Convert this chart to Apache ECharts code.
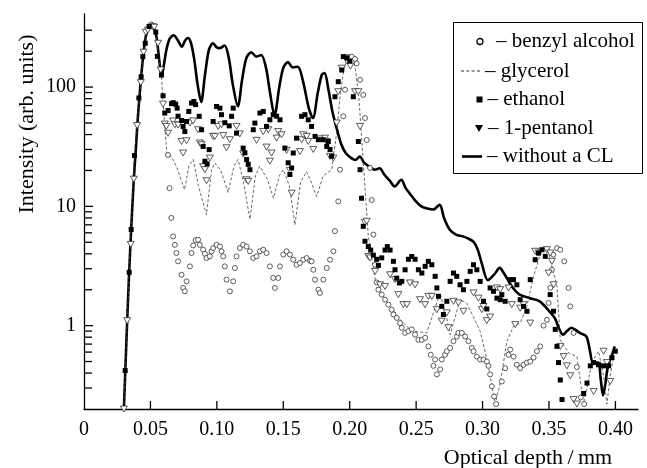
<!DOCTYPE html>
<html>
<head>
<meta charset="utf-8">
<script src="https://cdn.jsdelivr.net/npm/echarts@6/dist/echarts.min.js"></script>
<style>
  html, body { margin: 0; padding: 0; background: #fff; }
  #chart { width: 647px; height: 468px; }
</style>
</head>
<body>
<div id="chart"></div>
<script>
// depth (mm), intensity (arb. units)
var clPts = [[0.0300,0.2],[0.0312,0.45],[0.0325,1.1],[0.0340,2.8],[0.0355,6.4],[0.0375,17],[0.0390,30],[0.0405,55],[0.0420,90],[0.0435,140],[0.0450,200],[0.0465,265],[0.0485,315],[0.0505,335],[0.0525,318],[0.0545,265],[0.0560,195],[0.0573,145],[0.0585,124],[0.0600,150],[0.0620,205],[0.0645,255],[0.0676,272],[0.0705,248],[0.0737,218],[0.0760,245],[0.0782,258],[0.0805,235],[0.0830,170],[0.0855,105],[0.0882,75],[0.0910,125],[0.0940,205],[0.0970,233],[0.1000,215],[0.1020,212],[0.1058,223],[0.1090,175],[0.1120,105],[0.1158,69],[0.1190,115],[0.1222,175],[0.1259,196],[0.1297,180],[0.1334,186],[0.1370,145],[0.1400,90],[0.1434,58],[0.1470,100],[0.1500,145],[0.1535,162],[0.1572,146],[0.1610,148],[0.1650,110],[0.1690,68],[0.1723,55],[0.1760,90],[0.1790,127],[0.1811,131],[0.1840,95],[0.1870,62],[0.1900,46],[0.1937,33],[0.1970,28],[0.2012,25.4],[0.2045,24.5],[0.2075,26.2],[0.2112,23],[0.2150,21.5],[0.2190,20.3],[0.2225,20.9],[0.2260,18.5],[0.2300,16.5],[0.2338,14.7],[0.2388,16.7],[0.2420,14.3],[0.2450,12.9],[0.2490,11.3],[0.2539,10],[0.2585,9.6],[0.2626,9.4],[0.2677,10.3],[0.2710,8.0],[0.2752,6.4],[0.2800,5.8],[0.2852,5.6],[0.2903,5.3],[0.2935,5.0],[0.2965,4.3],[0.2995,3.3],[0.3040,2.4],[0.3090,2.7],[0.3129,3.05],[0.3165,2.7],[0.3204,2.28],[0.3240,2.0],[0.3279,1.82],[0.3320,1.75],[0.3355,1.7],[0.3430,1.6],[0.3492,1.36],[0.3543,1.16],[0.3575,0.95],[0.3605,0.84],[0.3635,0.9],[0.3668,0.96],[0.3700,0.92],[0.3731,0.87],[0.3782,0.81],[0.3810,0.6],[0.3831,0.49],[0.3870,0.49],[0.3890,0.35],[0.3907,0.26],[0.3925,0.33],[0.3944,0.46],[0.3970,0.55],[0.3995,0.67]];

var glycerolPts = [[0.0300,0.2],[0.0340,2.8],[0.0380,26.7],[0.0430,122],[0.0465,280],[0.0506,332],[0.0540,289],[0.0574,141],[0.0583,124],[0.0600,60],[0.0625,27],[0.0660,26],[0.0700,21],[0.0757,13.8],[0.0790,22],[0.0822,24.7],[0.0860,15],[0.0922,8.5],[0.0960,20],[0.0985,23.1],[0.1030,20],[0.1085,13.1],[0.1130,22],[0.1160,24.7],[0.1200,16],[0.1249,7.8],[0.1290,18],[0.1322,21.7],[0.1380,17],[0.1426,11.7],[0.1470,18],[0.1500,20.3],[0.1545,15],[0.1588,7.0],[0.1630,16],[0.1676,19.6],[0.1710,16],[0.1751,12.1],[0.1800,18],[0.1864,20.3],[0.1900,40],[0.1930,90],[0.1960,150],[0.2000,175],[0.2040,150],[0.2070,80],[0.2100,25],[0.2125,10],[0.2140,5.6],[0.2170,3.5],[0.2200,2.13],[0.2300,1.5],[0.2380,1.12],[0.2467,0.9],[0.2580,0.87],[0.2680,1.88],[0.2731,1.16],[0.2756,0.84],[0.2831,1.65],[0.2880,1.55],[0.2982,0.9],[0.3020,0.6],[0.3057,0.38],[0.3095,0.22],[0.3133,0.33],[0.3183,0.74],[0.3233,0.99],[0.3283,1.05],[0.3330,1.4],[0.3384,2.59],[0.3434,3.94],[0.3484,4.6],[0.3560,2.13],[0.3585,0.76],[0.3648,0.59],[0.3710,0.55],[0.3735,0.35],[0.3760,0.22],[0.3823,0.49],[0.3873,0.61],[0.3911,0.38],[0.3936,0.22],[0.3961,0.38],[0.3986,0.55]];

var ethanolPts = [[0.0310,0.42],[0.0340,2.8],[0.0355,6.4],[0.0380,26.7],[0.0413,81],[0.0430,122],[0.0443,180],[0.0461,233],[0.0490,322],[0.0540,289],[0.0552,181],[0.0583,126],[0.0595,84.6],[0.0608,60.6],[0.0633,63.6],[0.0659,72.6],[0.0671,74],[0.0690,72],[0.0701,66.6],[0.0708,57],[0.0734,52.5],[0.0746,46.8],[0.0759,42.4],[0.0772,51.5],[0.0789,62.5],[0.0809,73.5],[0.0827,75.8],[0.0840,71.3],[0.0867,56.9],[0.0885,43.9],[0.0897,31.8],[0.0910,23.9],[0.0927,22.7],[0.0942,29.9],[0.0972,51.5],[0.0998,68.8],[0.1023,66.6],[0.1035,58.7],[0.1060,50.3],[0.1093,47.3],[0.1111,56.9],[0.1123,66.6],[0.1148,41.1],[0.1198,30.8],[0.1211,28.1],[0.1224,24.7],[0.1236,22.5],[0.1249,20.3],[0.1274,43.9],[0.1286,49.9],[0.1324,60.6],[0.1349,62.5],[0.1374,46.8],[0.1399,53.2],[0.1424,58.7],[0.1450,57],[0.1475,53.2],[0.1512,30.8],[0.1537,23.2],[0.1550,18.5],[0.1563,21],[0.1575,28],[0.1600,37.3],[0.1638,56.9],[0.1663,58.7],[0.1688,53.2],[0.1713,46.8],[0.1739,38.6],[0.1764,36.2],[0.1801,36.2],[0.1827,31.8],[0.1839,35],[0.1852,30],[0.1864,26.3],[0.1889,83],[0.1914,111],[0.1940,139],[0.1952,180],[0.1977,176],[0.2000,165],[0.2027,83],[0.2065,35],[0.2078,20.3],[0.2089,11.7],[0.2102,6.8],[0.2115,5.1],[0.2140,4.6],[0.2158,4.3],[0.2178,3.9],[0.2203,3.6],[0.2216,3.2],[0.2241,3.7],[0.2266,4.3],[0.2283,4.6],[0.2304,4.3],[0.2329,3.46],[0.2341,2.94],[0.2354,2.5],[0.2374,2.28],[0.2392,2.35],[0.2417,2.94],[0.2442,3.6],[0.2467,3.8],[0.2492,3.6],[0.2517,2.94],[0.2543,2.76],[0.2568,3.14],[0.2592,3.46],[0.2618,3.24],[0.2643,2.59],[0.2656,2.07],[0.2668,1.76],[0.2693,1.45],[0.2705,1.24],[0.2731,1.6],[0.2756,2.35],[0.2781,2.76],[0.2806,2.59],[0.2831,2.2],[0.2856,2.0],[0.2882,2.35],[0.2907,2.85],[0.2932,3.24],[0.2957,2.94],[0.2982,2.35],[0.3007,1.6],[0.3032,1.38],[0.3057,2.07],[0.3082,1.94],[0.3108,1.7],[0.3133,1.65],[0.3145,1.82],[0.3170,1.6],[0.3208,2.43],[0.3233,2.43],[0.3258,2.2],[0.3283,1.65],[0.3308,1.45],[0.3334,1.32],[0.3359,2.43],[0.3396,3.57],[0.3421,4.06],[0.3447,4.33],[0.3472,3.81],[0.3509,1.82],[0.3534,1.32],[0.3547,0.93],[0.3560,0.67],[0.3572,0.49],[0.3585,0.35],[0.3598,0.24],[0.3761,0.27],[0.3786,0.33],[0.3811,0.46],[0.3836,0.49],[0.3873,0.47],[0.3911,0.46],[0.3949,0.46],[0.3974,0.54],[0.3999,0.61]];

var pentanolPts = [[0.0300,0.2],[0.0325,1.1],[0.0352,4.8],[0.0375,16.9],[0.0400,47.6],[0.0428,109],[0.0448,196],[0.0465,288],[0.0481,300],[0.0519,320],[0.0529,318],[0.0557,233],[0.0577,139],[0.0595,72],[0.0608,49],[0.0620,46.8],[0.0633,41],[0.0670,52],[0.0684,48.3],[0.0708,48],[0.0734,35],[0.0746,28],[0.0772,35.5],[0.0797,50],[0.0821,52],[0.0859,43.9],[0.0872,34],[0.0885,32.9],[0.0897,21.5],[0.0910,20.3],[0.0922,16.4],[0.0947,25.4],[0.0972,38.6],[0.0985,38.6],[0.1010,46.8],[0.1035,48.3],[0.1048,39.2],[0.1073,31],[0.1098,36.2],[0.1148,46.8],[0.1173,40.5],[0.1198,27.5],[0.1224,16.7],[0.1236,16.2],[0.1299,35.8],[0.1349,42.4],[0.1374,31.4],[0.1387,43.9],[0.1399,23.9],[0.1412,28],[0.1450,37.3],[0.1462,42.4],[0.1487,39.8],[0.1525,29.5],[0.1550,20],[0.1563,12.9],[0.1625,28.8],[0.1638,36.2],[0.1650,39.8],[0.1676,38.6],[0.1688,35],[0.1726,30],[0.1776,36.8],[0.1814,37.3],[0.1827,35],[0.1852,26.3],[0.1877,25.4],[0.1902,50],[0.1914,91.5],[0.1940,144],[0.1977,176],[0.2005,150],[0.2040,91.5],[0.2065,91.5],[0.2078,46.8],[0.2115,7.3],[0.2128,7.5],[0.2140,3.8],[0.2153,3.69],[0.2191,2.85],[0.2228,2.2],[0.2266,2.13],[0.2304,2.67],[0.2341,2.43],[0.2366,1.82],[0.2404,1.5],[0.2430,1.5],[0.2454,2.28],[0.2492,2.2],[0.2529,1.65],[0.2567,1.5],[0.2592,1.76],[0.2618,1.76],[0.2656,1.36],[0.2693,1.09],[0.2731,1.28],[0.2743,0.96],[0.2781,1.6],[0.2818,1.55],[0.2856,1.32],[0.2932,1.88],[0.2969,1.7],[0.2995,1.36],[0.3007,1.45],[0.3032,1.1],[0.3057,1.18],[0.3108,2.07],[0.3133,2.0],[0.3195,2.07],[0.3220,1.5],[0.3246,1.02],[0.3283,1.4],[0.3308,1.5],[0.3359,1.05],[0.3396,4.2],[0.3421,4.06],[0.3484,4.33],[0.3497,2.76],[0.3509,4.06],[0.3522,3.46],[0.3535,2.2],[0.3585,0.67],[0.3610,0.55],[0.3635,0.46],[0.3660,0.38],[0.3685,0.24],[0.3710,0.22],[0.3836,0.28],[0.3911,0.61],[0.3936,0.49],[0.3961,0.34]];

var benzylPts = [[0.0495,325],[0.0506,335],[0.0518,328],[0.0632,27],[0.0644,14.2],[0.0657,8.0],[0.0671,5.6],[0.0684,4.76],[0.0696,4.06],[0.0708,3.46],[0.0734,2.67],[0.0746,2.07],[0.0759,1.94],[0.0772,2.35],[0.0797,3.14],[0.0809,4.06],[0.0822,4.7],[0.0840,5.2],[0.0859,5.25],[0.0872,4.76],[0.0897,4.33],[0.0910,4.0],[0.0922,3.69],[0.0947,3.81],[0.0960,4.2],[0.0972,4.47],[0.0998,4.76],[0.1023,4.6],[0.1035,4.2],[0.1048,3.81],[0.1060,3.14],[0.1073,2.43],[0.1098,1.94],[0.1123,2.35],[0.1136,3.04],[0.1148,3.81],[0.1173,4.47],[0.1198,4.76],[0.1224,4.6],[0.1249,4.2],[0.1274,3.69],[0.1299,3.81],[0.1324,4.2],[0.1349,4.33],[0.1374,4.06],[0.1399,3.14],[0.1424,2.51],[0.1437,2.07],[0.1462,2.51],[0.1475,3.14],[0.1500,3.94],[0.1525,4.2],[0.1550,3.94],[0.1575,3.57],[0.1600,3.24],[0.1625,3.35],[0.1650,3.57],[0.1676,3.69],[0.1701,3.5],[0.1713,3.46],[0.1726,2.94],[0.1739,2.43],[0.1764,2.0],[0.1776,1.88],[0.1801,2.43],[0.1827,3.04],[0.1852,3.57],[0.1877,4.2],[0.1889,6.2],[0.1914,11],[0.1927,20.3],[0.1952,56.9],[0.1965,95],[0.1985,165],[0.2015,180],[0.2040,172],[0.2052,158],[0.2078,115],[0.2102,86],[0.2115,55],[0.2128,36],[0.2153,21],[0.2166,11.3],[0.2178,5.8],[0.2191,3.24],[0.2203,2.3],[0.2216,2.0],[0.2241,1.82],[0.2266,1.65],[0.2291,1.5],[0.2316,1.36],[0.2329,1.24],[0.2354,1.16],[0.2379,1.05],[0.2392,0.96],[0.2417,0.87],[0.2442,0.9],[0.2467,0.93],[0.2492,0.84],[0.2517,0.76],[0.2543,0.76],[0.2568,0.79],[0.2592,0.67],[0.2610,0.57],[0.2630,0.46],[0.2643,0.52],[0.2656,0.39],[0.2681,0.43],[0.2693,0.52],[0.2718,0.57],[0.2731,0.61],[0.2756,0.65],[0.2781,0.74],[0.2806,0.81],[0.2818,0.87],[0.2844,0.87],[0.2869,0.81],[0.2894,0.74],[0.2919,0.65],[0.2932,0.61],[0.2957,0.55],[0.2982,0.52],[0.3007,0.52],[0.3032,0.5],[0.3044,0.46],[0.3057,0.39],[0.3070,0.31],[0.3087,0.255],[0.3102,0.22],[0.3145,0.34],[0.3170,0.44],[0.3195,0.57],[0.3208,0.63],[0.3233,0.55],[0.3258,0.47],[0.3283,0.44],[0.3308,0.47],[0.3334,0.49],[0.3359,0.5],[0.3384,0.54],[0.3409,0.61],[0.3434,0.67],[0.3459,1.0],[0.3484,1.12],[0.3497,1.55],[0.3510,2.07],[0.3522,2.94],[0.3533,3.94],[0.3560,4.47],[0.3585,4.33],[0.3615,3.46],[0.3647,2.07],[0.3660,1.45],[0.3685,0.87],[0.3710,0.45],[0.3740,0.25],[0.3765,0.22]];

// axis ticks
var xTickValues = [0.05, 0.10, 0.15, 0.20, 0.25, 0.30, 0.35, 0.40];
var yMajorValues = [1, 10, 100];
var yMinorValues = [0.3, 0.4, 0.5, 0.6, 0.7, 0.8, 0.9, 2, 3, 4, 5, 6, 7, 8, 9, 20, 30, 40, 50, 60, 70, 80, 90, 200, 300];

var serif = '"Liberation Serif", "DejaVu Serif", serif';

var chart = echarts.init(document.getElementById('chart'), null, { renderer: 'canvas' });

// tick marks as tiny bar-shaped symbols placed through the axis scales
function tickSeries(points, size, offset) {
    return {
        type: 'scatter', silent: true, clip: false, z: 10,
        data: points, symbol: 'rect', symbolSize: size, symbolOffset: offset,
        itemStyle: { color: '#000', opacity: 1 }
    };
}

function legendItem(name, left, top, w, h, icon, itemStyle) {
    return {
        data: [name], left: left, top: top, padding: 0, orient: 'vertical',
        itemWidth: w, itemHeight: h, icon: icon, itemStyle: itemStyle,
        selectedMode: false,
        formatter: function (n) { return '\u2013 ' + n; },
        textStyle: { fontFamily: serif, fontSize: 21, color: '#000', lineHeight: 20 }
    };
}

var option = {
    animation: false,
    backgroundColor: '#fff',
    grid: { left: 84, right: 9, top: 14, bottom: 59 },
    xAxis: {
        type: 'value', min: 0, max: 0.417, interval: 0.05,
        axisLine: { lineStyle: { color: '#000', width: 1.3 } },
        axisTick: { show: false },
        splitLine: { show: false },
        axisLabel: {
            color: '#000', fontFamily: serif, fontSize: 20, margin: 11, showMaxLabel: false,
            formatter: function (v) { return v === 0 ? '0' : v.toFixed(2); }
        }
    },
    yAxis: {
        type: 'log', min: 0.2, max: 410, logBase: 10,
        axisLine: { lineStyle: { color: '#000', width: 1.3 } },
        axisTick: { show: false },
        splitLine: { show: false },
        axisLabel: {
            color: '#000', fontFamily: serif, fontSize: 20, margin: 8,
            formatter: function (v) {
                var e = Math.log10(v);
                return Math.abs(e - Math.round(e)) < 1e-6 ? String(Math.round(v)) : '';
            }
        }
    },
    legend: [
        legendItem('benzyl alcohol', 476.3, 31, 22, 6, 'path://M0,1A1,1,0,1,1,2,1A1,1,0,1,1,0,1Z', { color: '#fff', borderColor: '#000', borderWidth: 1.3 }),
        legendItem('glycerol', 461, 60.5, 19, 1.2, 'path://M0,0h3v1h-3zM5.3,0h3v1h-3zM10.6,0h3v1h-3zM16,0h3v1h-3z', { color: '#333', borderWidth: 0 }),
        legendItem('ethanol', 476.5, 89, 6, 6, 'rect', { color: '#000', borderWidth: 0 }),
        legendItem('1-pentanol', 475, 118, 8, 7, 'path://M0,0L2,0L1,1.75Z', { color: '#000', borderWidth: 0 }),
        legendItem('without a CL', 462, 146, 20, 2.6, 'rect', { color: '#000', borderWidth: 0 })
    ],
    graphic: [
        { type: 'rect', shape: { x: 453.5, y: 22.5, width: 189, height: 151 }, style: { fill: 'none', stroke: '#000', lineWidth: 1 }, z: 100 },
        { type: 'text', x: 27, y: 124, rotation: Math.PI / 2, style: { text: 'Intensity (arb. units)', font: '22px ' + serif, fill: '#000', align: 'center', verticalAlign: 'middle' } },
        { type: 'text', x: 528, y: 458, style: { text: 'Optical depth\u2009/\u2009mm', font: '22px ' + serif, fill: '#000', align: 'center', verticalAlign: 'middle' } }
    ],
    series: [
        { name: 'without a CL', type: 'line', data: clPts, symbol: 'none', smooth: 0.3, lineStyle: { color: '#000', width: 2.6 }, z: 2 },
        { name: 'glycerol', type: 'line', data: glycerolPts, symbol: 'none', lineStyle: { color: '#444', width: 0.8, type: [3, 2] }, z: 3 },
        { name: 'benzyl alcohol', type: 'scatter', data: benzylPts, symbol: 'circle', symbolSize: 5,
          itemStyle: { color: '#fff', borderColor: '#333', borderWidth: 0.8, opacity: 1 }, z: 4 },
        { name: '1-pentanol', type: 'scatter', data: pentanolPts, symbol: 'triangle', symbolRotate: 180, symbolSize: [7, 6],
          itemStyle: { color: '#fff', borderColor: '#333', borderWidth: 0.8, opacity: 1 }, z: 5 },
        { name: 'ethanol', type: 'scatter', data: ethanolPts, symbol: 'rect', symbolSize: 5,
          itemStyle: { color: '#000', opacity: 1 }, z: 6 },
        tickSeries(yMajorValues.map(function (v) { return [0, v]; }), [9, 1.3], [4.5, 0]),
        tickSeries(yMinorValues.map(function (v) { return [0, v]; }), [8, 1.3], [4, 0]),
        tickSeries(xTickValues.map(function (v) { return [v, 0.2]; }), [1.3, 8], [0, -4])
    ]
};

chart.setOption(option);
</script>
</body>
</html>
